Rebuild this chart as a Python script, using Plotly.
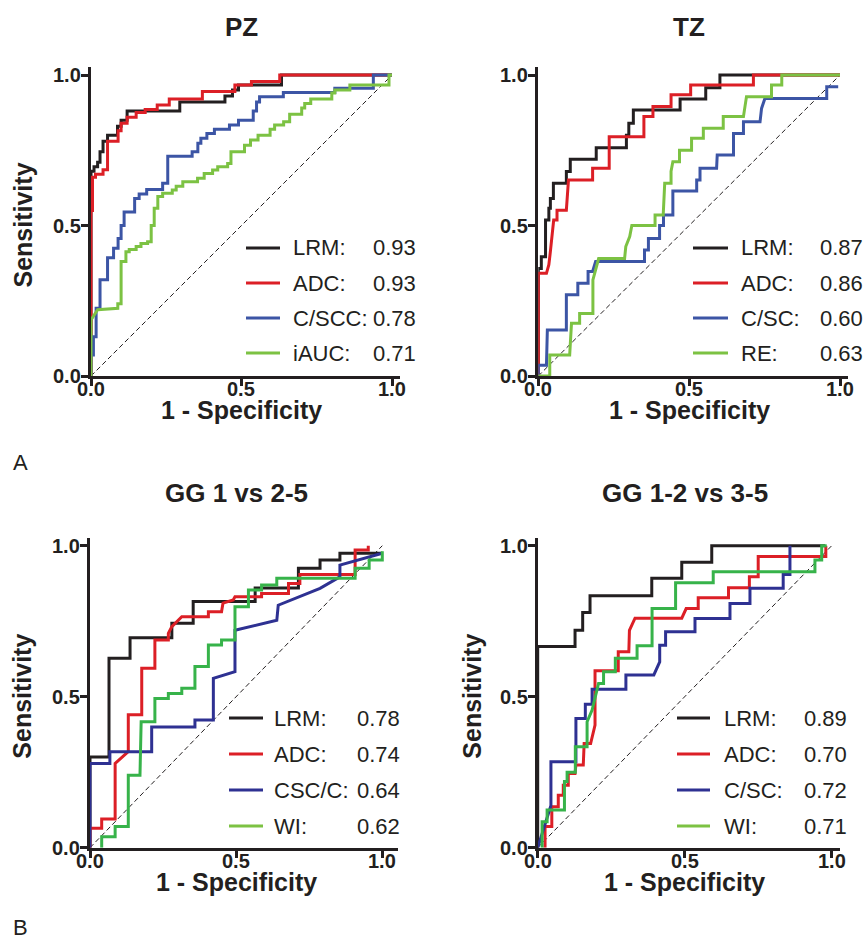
import plotly.graph_objects as go

W, H = 863, 940
OFF = 0  # page body margin removed via post_script
FW, FH = W - OFF, H - OFF

# ---------------- data ----------------
PANEL_TITLES = ["PZ", "TZ", "GG 1 vs 2-5", "GG 1-2 vs 3-5"]
TICKS = [0.0, 0.5, 1.0]

PZ_NAMES = ["LRM:", "ADC:", "C/SCC:", "iAUC:"]
PZ_AUC = ["0.93", "0.93", "0.78", "0.71"]
TZ_NAMES = ["LRM:", "ADC:", "C/SC:", "RE:"]
TZ_AUC = ["0.87", "0.86", "0.60", "0.63"]
GGA_NAMES = ["LRM:", "ADC:", "CSC/C:", "WI:"]
GGA_AUC = ["0.78", "0.74", "0.64", "0.62"]
GGB_NAMES = ["LRM:", "ADC:", "C/SC:", "WI:"]
GGB_AUC = ["0.89", "0.70", "0.72", "0.71"]

# PZ
PZ_LRM_X = [0, 0, 0.01, 0.01, 0.022, 0.022, 0.03, 0.03, 0.04, 0.04, 0.055, 0.055, 0.088, 0.088, 0.10, 0.10, 0.12, 0.12,
            0.295, 0.295, 0.445, 0.445, 0.47, 0.47, 0.49, 0.49, 0.633, 0.633, 1.0]
PZ_LRM_Y = [0, 0.68, 0.68, 0.695, 0.695, 0.71, 0.71, 0.745, 0.745, 0.78, 0.78, 0.80, 0.80, 0.83, 0.83, 0.85, 0.85, 0.88,
            0.88, 0.91, 0.91, 0.93, 0.93, 0.95, 0.95, 0.967, 0.967, 1.0, 1.0]
PZ_ADC_X = [0, 0, 0.005, 0.005, 0.015, 0.015, 0.04, 0.04, 0.055, 0.055, 0.09, 0.09, 0.10, 0.10, 0.12, 0.12, 0.15, 0.15,
            0.18, 0.18, 0.22, 0.22, 0.26, 0.26, 0.37, 0.37, 0.478, 0.478, 0.533, 0.533, 0.627, 0.627, 1.0]
PZ_ADC_Y = [0, 0.55, 0.55, 0.66, 0.66, 0.67, 0.67, 0.685, 0.685, 0.78, 0.78, 0.815, 0.815, 0.84, 0.84, 0.86, 0.86, 0.875,
            0.875, 0.885, 0.885, 0.90, 0.90, 0.92, 0.92, 0.945, 0.945, 0.967, 0.967, 0.978, 0.978, 1.0, 1.0]
PZ_CSCC_X = [0, 0, 0.008, 0.008, 0.017, 0.017, 0.03, 0.03, 0.055, 0.055, 0.075, 0.075, 0.09, 0.09, 0.10, 0.10, 0.11, 0.11,
             0.145, 0.145, 0.16, 0.16, 0.185, 0.185, 0.238, 0.238, 0.255, 0.255, 0.336, 0.336, 0.355, 0.355, 0.365, 0.365,
             0.385, 0.385, 0.41, 0.41, 0.46, 0.46, 0.49, 0.49, 0.539, 0.539, 0.55, 0.55, 0.56, 0.56, 0.639, 0.639, 0.81,
             0.81, 0.938, 0.938, 1.0]
PZ_CSCC_Y = [0, 0.07, 0.07, 0.13, 0.13, 0.225, 0.225, 0.32, 0.32, 0.393, 0.393, 0.424, 0.424, 0.457, 0.457, 0.50, 0.50,
             0.545, 0.545, 0.59, 0.59, 0.605, 0.605, 0.62, 0.62, 0.64, 0.64, 0.73, 0.73, 0.745, 0.745, 0.773, 0.773, 0.79,
             0.79, 0.806, 0.806, 0.82, 0.82, 0.834, 0.834, 0.85, 0.85, 0.88, 0.88, 0.91, 0.91, 0.928, 0.928, 0.942, 0.942,
             0.956, 0.956, 1.0, 1.0]
PZ_IAUC_X = [0, 0, 0.022, 0.089, 0.089, 0.10, 0.10, 0.116, 0.116, 0.127, 0.127, 0.15, 0.15, 0.166, 0.166, 0.188, 0.188,
             0.20, 0.20, 0.21, 0.21, 0.222, 0.222, 0.238, 0.238, 0.27, 0.27, 0.283, 0.283, 0.305, 0.305, 0.354, 0.354,
             0.376, 0.376, 0.404, 0.404, 0.421, 0.421, 0.454, 0.454, 0.465, 0.465, 0.51, 0.51, 0.53, 0.53, 0.555, 0.555,
             0.595, 0.595, 0.61, 0.61, 0.64, 0.64, 0.66, 0.66, 0.70, 0.70, 0.71, 0.71, 0.73, 0.73, 0.80, 0.80, 0.81, 0.81,
             0.86, 0.86, 0.99, 0.99, 1.0]
PZ_IAUC_Y = [0, 0.186, 0.22, 0.225, 0.24, 0.24, 0.38, 0.38, 0.413, 0.413, 0.42, 0.42, 0.43, 0.43, 0.44, 0.44, 0.446,
             0.446, 0.50, 0.50, 0.557, 0.557, 0.596, 0.596, 0.607, 0.607, 0.618, 0.618, 0.63, 0.63, 0.645, 0.645, 0.657,
             0.657, 0.673, 0.673, 0.684, 0.684, 0.695, 0.695, 0.706, 0.706, 0.745, 0.745, 0.767, 0.767, 0.784, 0.784, 0.80,
             0.80, 0.82, 0.82, 0.834, 0.834, 0.845, 0.845, 0.87, 0.87, 0.89, 0.89, 0.905, 0.905, 0.92, 0.92, 0.94, 0.94,
             0.95, 0.95, 0.967, 0.967, 1.0, 1.0]

# TZ
TZ_LRM_X = [0, 0, 0.01, 0.01, 0.024, 0.024, 0.035, 0.035, 0.04, 0.04, 0.05, 0.05, 0.093, 0.093, 0.106, 0.106, 0.192,
            0.192, 0.292, 0.292, 0.30, 0.30, 0.315, 0.315, 0.47, 0.47, 0.555, 0.555, 0.602, 0.602, 1.0]
TZ_LRM_Y = [0, 0.357, 0.357, 0.396, 0.396, 0.518, 0.518, 0.557, 0.557, 0.59, 0.59, 0.64, 0.64, 0.679, 0.679, 0.72, 0.72,
            0.758, 0.758, 0.80, 0.80, 0.84, 0.84, 0.884, 0.884, 0.92, 0.92, 0.958, 0.958, 1.0, 1.0]
TZ_ADC_X = [0, 0, 0.027, 0.035, 0.04, 0.045, 0.051, 0.062, 0.062, 0.093, 0.10, 0.18, 0.18, 0.235, 0.235, 0.35, 0.35,
            0.38, 0.38, 0.44, 0.44, 0.505, 0.505, 0.713, 0.713, 1.0]
TZ_ADC_Y = [0, 0.341, 0.341, 0.37, 0.413, 0.47, 0.518, 0.518, 0.551, 0.551, 0.651, 0.651, 0.69, 0.69, 0.795, 0.795, 0.862,
            0.862, 0.895, 0.895, 0.934, 0.934, 0.967, 0.967, 1.0, 1.0]
TZ_CSC_X = [0, 0, 0.027, 0.03, 0.093, 0.093, 0.131, 0.131, 0.165, 0.165, 0.18, 0.19, 0.352, 0.352, 0.365, 0.365, 0.402,
            0.402, 0.415, 0.415, 0.446, 0.446, 0.525, 0.525, 0.536, 0.536, 0.591, 0.593, 0.647, 0.647, 0.68, 0.68, 0.735,
            0.74, 0.751, 0.956, 0.956, 0.994]
TZ_CSC_Y = [0, 0.036, 0.036, 0.153, 0.153, 0.27, 0.27, 0.308, 0.308, 0.347, 0.347, 0.38, 0.38, 0.419, 0.419, 0.457, 0.457,
            0.50, 0.50, 0.535, 0.535, 0.615, 0.615, 0.651, 0.651, 0.69, 0.69, 0.734, 0.734, 0.806, 0.806, 0.845, 0.845,
            0.889, 0.922, 0.922, 0.961, 0.961]
TZ_RE_X = [0, 0.038, 0.038, 0.104, 0.11, 0.137, 0.137, 0.181, 0.181, 0.187, 0.20, 0.286, 0.29, 0.303, 0.31, 0.387, 0.387,
           0.414, 0.419, 0.44, 0.44, 0.446, 0.468, 0.468, 0.508, 0.508, 0.547, 0.547, 0.613, 0.613, 0.68, 0.685, 0.69,
           0.773, 0.773, 0.807, 0.807, 1.0]
TZ_RE_Y = [0, 0, 0.07, 0.07, 0.175, 0.175, 0.208, 0.208, 0.319, 0.34, 0.39, 0.39, 0.43, 0.463, 0.50, 0.50, 0.535, 0.535,
           0.64, 0.64, 0.68, 0.712, 0.712, 0.75, 0.75, 0.79, 0.79, 0.823, 0.823, 0.862, 0.862, 0.895, 0.928, 0.928,
           0.967, 0.967, 1.0, 1.0]

# GG 1 vs 2-5
GA_LRM_X = [0, 0, 0.065, 0.065, 0.137, 0.137, 0.28, 0.28, 0.353, 0.353, 0.565, 0.565, 0.713, 0.713, 0.787, 0.787, 0.855,
            0.855, 1.0]
GA_LRM_Y = [0, 0.30, 0.30, 0.627, 0.627, 0.695, 0.695, 0.743, 0.743, 0.815, 0.815, 0.86, 0.86, 0.925, 0.925, 0.953, 0.953,
            0.975, 0.975]
GA_ADC_X = [0, 0, 0.04, 0.04, 0.086, 0.086, 0.131, 0.131, 0.177, 0.177, 0.222, 0.222, 0.268, 0.268, 0.28, 0.314, 0.405,
            0.405, 0.45, 0.455, 0.49, 0.496, 0.587, 0.587, 0.679, 0.679, 0.718, 0.718, 0.907, 0.907, 0.952, 0.952]
GA_ADC_Y = [0, 0.064, 0.064, 0.095, 0.095, 0.279, 0.318, 0.44, 0.44, 0.594, 0.594, 0.688, 0.688, 0.71, 0.732, 0.765, 0.765,
            0.781, 0.781, 0.81, 0.82, 0.831, 0.831, 0.842, 0.842, 0.875, 0.875, 0.905, 0.905, 0.986, 0.986, 1.0]
GA_CSCC_X = [0, 0, 0.068, 0.068, 0.211, 0.211, 0.359, 0.359, 0.422, 0.422, 0.496, 0.496, 0.639, 0.644, 0.787, 0.855,
             0.855, 1.0]
GA_CSCC_Y = [0, 0.279, 0.279, 0.318, 0.318, 0.40, 0.40, 0.423, 0.423, 0.561, 0.583, 0.72, 0.753, 0.803, 0.859, 0.897,
             0.936, 0.975]
GA_WI_X = [0.04, 0.04, 0.086, 0.086, 0.131, 0.131, 0.171, 0.175, 0.222, 0.222, 0.268, 0.268, 0.314, 0.314, 0.359, 0.359,
           0.405, 0.405, 0.45, 0.45, 0.496, 0.496, 0.542, 0.542, 0.587, 0.587, 0.639, 0.639, 0.907, 0.907, 0.955, 0.955,
           1.0, 1.0]
GA_WI_Y = [0, 0.036, 0.036, 0.07, 0.07, 0.24, 0.24, 0.417, 0.417, 0.494, 0.494, 0.511, 0.511, 0.528, 0.528, 0.60, 0.60,
           0.671, 0.671, 0.688, 0.688, 0.798, 0.798, 0.853, 0.853, 0.87, 0.87, 0.892, 0.892, 0.925, 0.925, 0.953, 0.953,
           0.982]

# GG 1-2 vs 3-5
GB_LRM_X = [0, 0, 0.127, 0.127, 0.153, 0.153, 0.178, 0.178, 0.388, 0.388, 0.49, 0.49, 0.592, 0.592, 0.977]
GB_LRM_Y = [0, 0.666, 0.666, 0.72, 0.72, 0.779, 0.779, 0.834, 0.834, 0.892, 0.892, 0.945, 0.945, 1.0, 1.0]
GB_ADC_X = [0.025, 0.025, 0.048, 0.048, 0.07, 0.07, 0.087, 0.087, 0.104, 0.104, 0.127, 0.13, 0.155, 0.158, 0.18, 0.195,
            0.195, 0.274, 0.274, 0.31, 0.312, 0.331, 0.49, 0.505, 0.546, 0.546, 0.649, 0.649, 0.72, 0.72, 0.75, 0.75,
            0.98, 0.98]
GB_ADC_Y = [0, 0.07, 0.07, 0.136, 0.136, 0.174, 0.174, 0.207, 0.207, 0.246, 0.246, 0.274, 0.274, 0.345, 0.345, 0.406,
            0.586, 0.586, 0.649, 0.649, 0.72, 0.76, 0.76, 0.792, 0.792, 0.828, 0.828, 0.861, 0.861, 0.897, 0.897, 0.964,
            0.964, 1.0]
GB_CSC_X = [0, 0.045, 0.045, 0.13, 0.13, 0.162, 0.162, 0.185, 0.185, 0.30, 0.30, 0.395, 0.415, 0.415, 0.435, 0.435,
            0.535, 0.535, 0.654, 0.654, 0.722, 0.722, 0.835, 0.835, 0.858, 0.858]
GB_CSC_Y = [0, 0.14, 0.285, 0.285, 0.428, 0.428, 0.475, 0.475, 0.525, 0.525, 0.572, 0.572, 0.615, 0.67, 0.67, 0.715,
            0.715, 0.759, 0.759, 0.809, 0.809, 0.859, 0.859, 0.905, 0.905, 1.0]
GB_WI_X = [0.015, 0.015, 0.032, 0.032, 0.091, 0.091, 0.10, 0.10, 0.128, 0.128, 0.168, 0.168, 0.185, 0.207, 0.224, 0.224,
           0.264, 0.264, 0.338, 0.338, 0.389, 0.389, 0.469, 0.469, 0.597, 0.597, 0.943, 0.943, 0.966, 0.966, 0.983]
GB_WI_Y = [0, 0.086, 0.086, 0.125, 0.125, 0.219, 0.219, 0.25, 0.25, 0.334, 0.334, 0.417, 0.456, 0.544, 0.544, 0.583,
           0.583, 0.627, 0.627, 0.669, 0.669, 0.792, 0.792, 0.877, 0.877, 0.914, 0.914, 0.953, 0.953, 1.0, 1.0]

# ---------------- styling / layout ----------------
BLACK = "#231f20"
RED = "#dc1f26"
BLUE_A = "#3c55a5"
GREEN_A = "#7cc243"
BLUE_B = "#2e3192"
GREEN_B = "#37b34a"
FONT = "Liberation Sans, Arial, sans-serif"

panels = [
    dict(title=PANEL_TITLES[0], names=PZ_NAMES, auc=PZ_AUC,
         series=[(PZ_LRM_X, PZ_LRM_Y), (PZ_ADC_X, PZ_ADC_Y), (PZ_CSCC_X, PZ_CSCC_Y), (PZ_IAUC_X, PZ_IAUC_Y)],
         colors=[BLACK, RED, BLUE_A, GREEN_A], lcolors=[BLACK, RED, BLUE_A, GREEN_A],
         geo=(91, 392, 376, 75, 1.027, 1.028), ty=27, ytitle=True, ytx=22,
         leg=(246, 280, 292, 372, [248, 283, 318, 353])),
    dict(title=PANEL_TITLES[1], names=TZ_NAMES, auc=TZ_AUC,
         series=[(TZ_LRM_X, TZ_LRM_Y), (TZ_ADC_X, TZ_ADC_Y), (TZ_CSC_X, TZ_CSC_Y), (TZ_RE_X, TZ_RE_Y)],
         colors=[BLACK, RED, BLUE_A, GREEN_A], lcolors=[BLACK, RED, BLUE_A, GREEN_A],
         geo=(538.3, 840, 376, 75, 1.027, 1.028), ty=27, ytitle=False, ytx=None,
         leg=(693, 728, 740, 819, [248, 283, 318, 353])),
    dict(title=PANEL_TITLES[2], names=GGA_NAMES, auc=GGA_AUC,
         series=[(GA_LRM_X, GA_LRM_Y), (GA_ADC_X, GA_ADC_Y), (GA_CSCC_X, GA_CSCC_Y), (GA_WI_X, GA_WI_Y)],
         colors=[BLACK, RED, BLUE_B, GREEN_B], lcolors=[BLACK, RED, BLUE_B, GREEN_A],
         geo=(90, 382.3, 847.7, 545.7, 1.054, 1.025), ty=493, ytitle=True, ytx=22,
         leg=(229, 263, 273, 356, [718, 754, 790, 826])),
    dict(title=PANEL_TITLES[3], names=GGB_NAMES, auc=GGB_AUC,
         series=[(GB_LRM_X, GB_LRM_Y), (GB_ADC_X, GB_ADC_Y), (GB_CSC_X, GB_CSC_Y), (GB_WI_X, GB_WI_Y)],
         colors=[BLACK, RED, BLUE_B, GREEN_B], lcolors=[BLACK, RED, BLUE_B, GREEN_A],
         geo=(537.7, 831.7, 847.7, 545.7, 1.028, 1.025), ty=493, ytitle=True, ytx=472,
         leg=(677, 710, 723, 803, [718, 754, 790, 826])),
]


def PX(x):
    return (x - OFF) / FW


def PY(y):
    return 1 - (y - OFF) / FH


def txt(text, x, y, size, xanchor="center", angle=0):
    return dict(text=text, x=PX(x), y=PY(y), xref="paper", yref="paper", showarrow=False, xanchor=xanchor,
                yanchor="middle", textangle=angle, borderpad=0, font=dict(family=FONT, size=size, color=BLACK))


fig = go.Figure()
annotations = []
shapes = []
layout_axes = {}

for i, p in enumerate(panels, start=1):
    x0, x1, y0, y1, xmax, ymax = p["geo"]
    xa = "x" if i == 1 else f"x{i}"
    ya = "y" if i == 1 else f"y{i}"
    xkey = "xaxis" if i == 1 else f"xaxis{i}"
    ykey = "yaxis" if i == 1 else f"yaxis{i}"
    sx = x1 - x0
    sy = y0 - y1
    xdom = [PX(x0), PX(x0 + sx * xmax)]
    ydom = [PY(y0), PY(y0 - sy * ymax)]
    axcommon = dict(showline=True, linewidth=3, linecolor=BLACK, ticks="outside", ticklen=7, tickwidth=3,
                    tickcolor=BLACK, tickvals=TICKS, showticklabels=False, showgrid=False, zeroline=False,
                    automargin=False, fixedrange=True)
    layout_axes[xkey] = dict(domain=xdom, range=[0, xmax], anchor=ya, **axcommon)
    layout_axes[ykey] = dict(domain=ydom, range=[0, ymax], anchor=xa, **axcommon)

    # diagonal reference line
    fig.add_trace(go.Scatter(x=[0, 1], y=[0, 1], mode="lines", xaxis=xa, yaxis=ya, showlegend=False,
                             line=dict(color=BLACK, width=1, dash="5px,3px"), hoverinfo="skip"))
    for (sxs, sys_), c, nm in zip(p["series"], p["colors"], p["names"]):
        fig.add_trace(go.Scatter(x=sxs, y=sys_, mode="lines", xaxis=xa, yaxis=ya, showlegend=False, name=nm,
                                 line=dict(color=c, width=3)))

    # tick labels
    for t in TICKS:
        annotations.append(txt(f"<b>{t:.1f}</b>", x0 + sx * t, y0 + 13, 20))
        annotations.append(txt(f"<b>{t:.1f}</b>", x0 - 9, y0 - sy * t, 20, xanchor="right"))

    # titles
    cx = (x0 + x1) / 2
    annotations.append(txt(f"<b>{p['title']}</b>", cx, p["ty"], 26))
    annotations.append(txt("<b>1 - Specificity</b>", cx, y0 + 34, 25))
    if p["ytitle"]:
        annotations.append(txt("<b>Sensitivity</b>", p["ytx"], (y0 + y1) / 2, 25, angle=-90))
    # legend
    lx0, lx1, tx, vx, rows = p["leg"]
    for nm, auc, c, ry in zip(p["names"], p["auc"], p["lcolors"], rows):
        shapes.append(dict(type="line", xref="paper", yref="paper", x0=PX(lx0), x1=PX(lx1), y0=PY(ry), y1=PY(ry),
                           line=dict(color=c, width=3)))
        annotations.append(txt(nm, tx, ry, 22, xanchor="left"))
        annotations.append(txt(auc, vx, ry, 22, xanchor="left"))

annotations.append(txt("A", 20, 462, 22))
annotations.append(txt("B", 20, 927, 22))

fig.update_layout(width=FW, height=FH, margin=dict(l=0, r=0, t=0, b=0, pad=0, autoexpand=False),
                  paper_bgcolor="white", plot_bgcolor="white", showlegend=False,
                  annotations=annotations, shapes=shapes, **layout_axes)

fig.write_html("out.html", config={"displayModeBar": False, "staticPlot": True},
               post_script="document.body.style.margin='0';document.body.style.overflow='hidden';")
